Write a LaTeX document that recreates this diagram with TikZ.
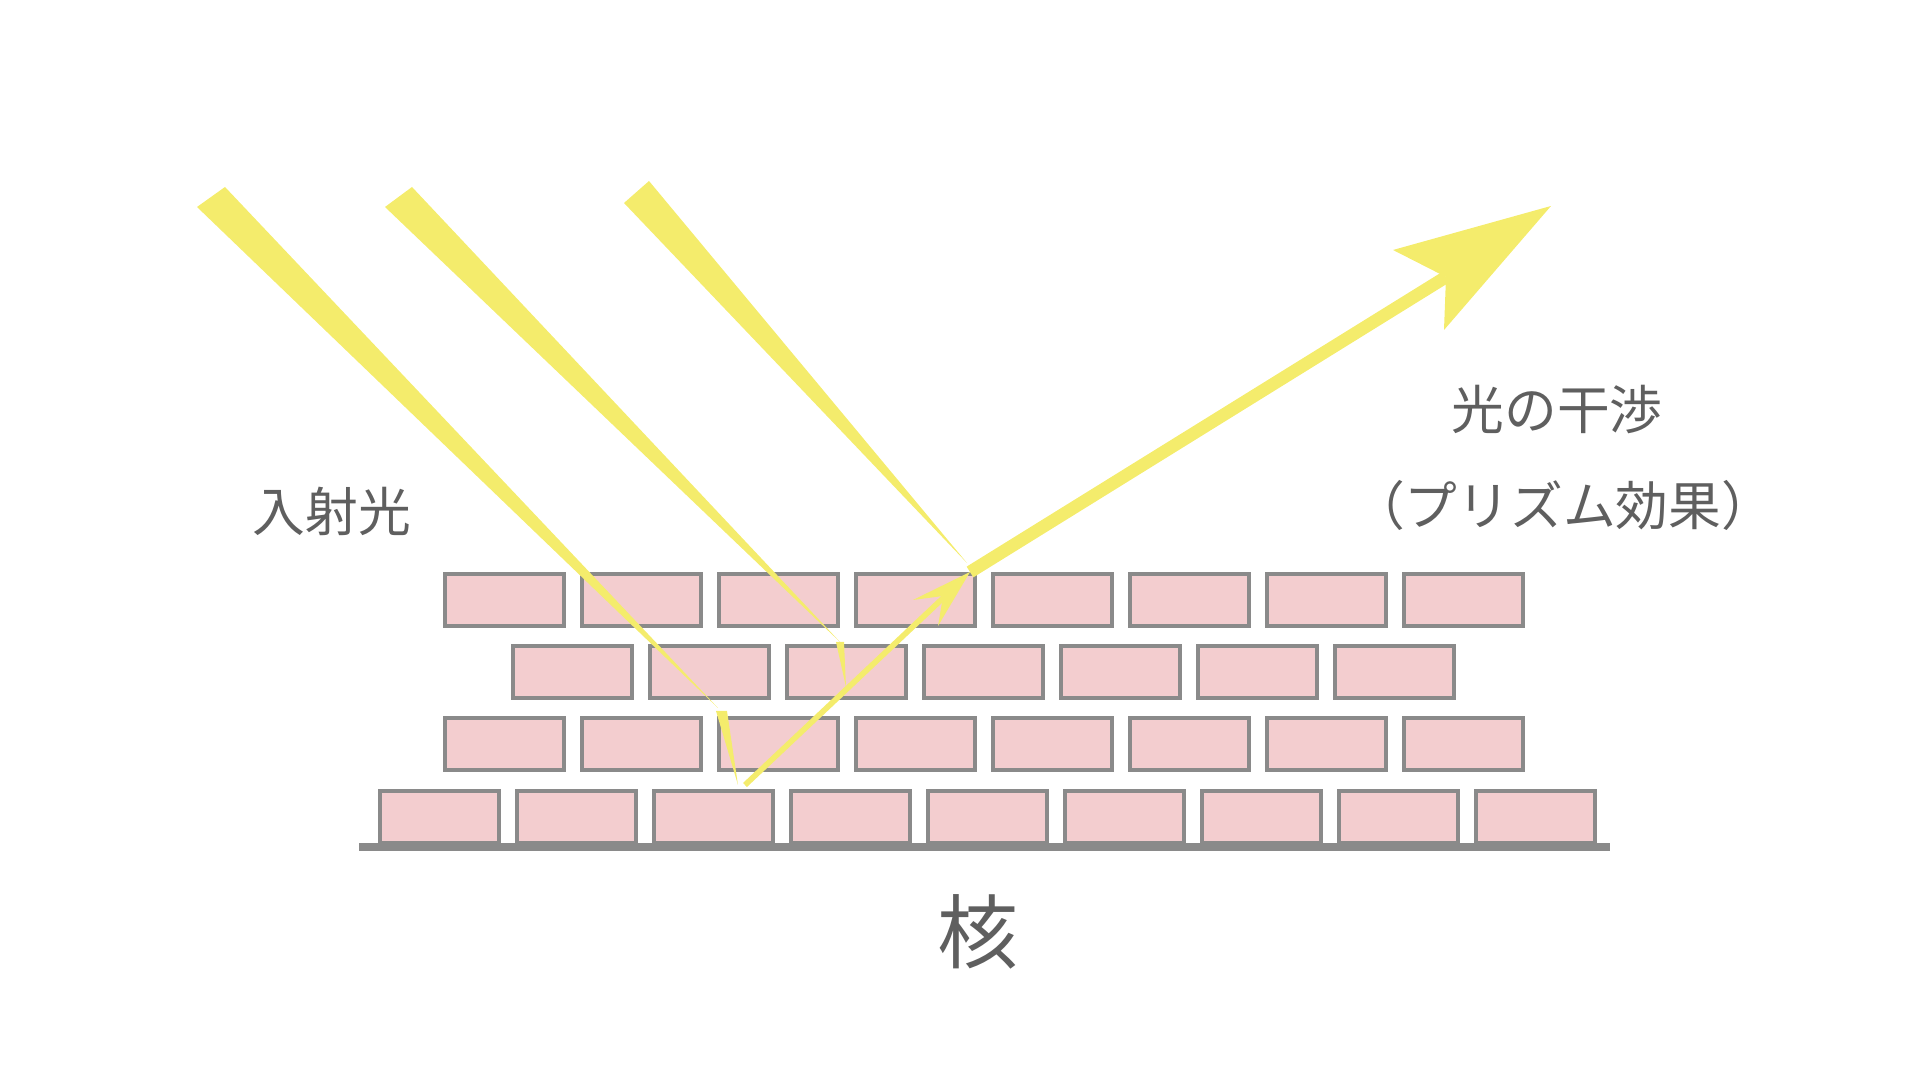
\documentclass[tikz,border=0pt]{standalone}
\usepackage{fontspec}
\newfontfamily\cjk{Noto Sans CJK JP}
\definecolor{brickfill}{RGB}{243,205,207}
\definecolor{brickline}{RGB}{138,138,138}
\definecolor{beam}{RGB}{244,236,108}
\definecolor{labeltext}{RGB}{95,95,95}
\begin{document}
\begin{tikzpicture}[x=0.01cm, y=-0.01cm,
    brick/.style={draw=brickline, fill=brickfill, line width=1.2pt},
    ray/.style={fill=beam, draw=none},
    label/.style={text=labeltext, font=\cjk\fontsize{15}{18}\selectfont, inner sep=0pt}]

    \useasboundingbox (0,0) rectangle (1920,1080);

    % Bricks, four rows
    \foreach \i in {0,...,7} {
        \draw[brick] (445+137*\i, 574) rectangle ++(119, 52);
        \draw[brick] (445+137*\i, 718) rectangle ++(119, 52);
    }
    \foreach \i in {0,...,6}
        \draw[brick] (513+137*\i, 646) rectangle ++(119, 52);
    \foreach \i in {0,...,8}
        \draw[brick] (380+137*\i, 791) rectangle ++(119, 52);

    % Core line
    \coordinate (baseL) at (359, 847);
    \coordinate (baseR) at (1610, 847);
    \draw[brickline, line width=2.4pt] (baseL) -- (baseR);

    % Incident beams
    \fill[ray] (197,207) -- (225,187) -- (718,708) -- cycle;
    \fill[ray] (716,711) -- (727,711) -- (738,785) -- cycle;
    \fill[ray] (385,207) -- (412,187) -- (840,642) -- cycle;
    \fill[ray] (836,642) -- (844,642) -- (846,687) -- cycle;
    \fill[ray] (624,203) -- (649,181) -- (967,563) -- cycle;

    % Reflected beam
    \coordinate (refA) at (745,785);
    \coordinate (refB) at (958,584);
    \coordinate (refC) at (970,572);
    \coordinate (refD) at (1446,277);
    \draw[beam, line width=1.6pt] (refA) -- (refB);
    \fill[ray] (970,572) -- (913,600) -- (943,596) -- (938,626) -- cycle;
    \draw[beam, line width=3.6pt] (refC) -- (refD);
    \fill[ray] (1551,206) -- (1393,250) -- (1446,277) -- (1444,330) -- cycle;

    % Labels
    \node[label] (incident) at (332,511) {入射光};
    \node[label] (interf) at (1557,410) {光の干渉};
    \node[label] (prism) at (1563,505) {（プリズム効果）};
    \node[label, font=\cjk\fontsize{23}{26}\selectfont] (core) at (978,932) {核};

\end{tikzpicture}
\end{document}
